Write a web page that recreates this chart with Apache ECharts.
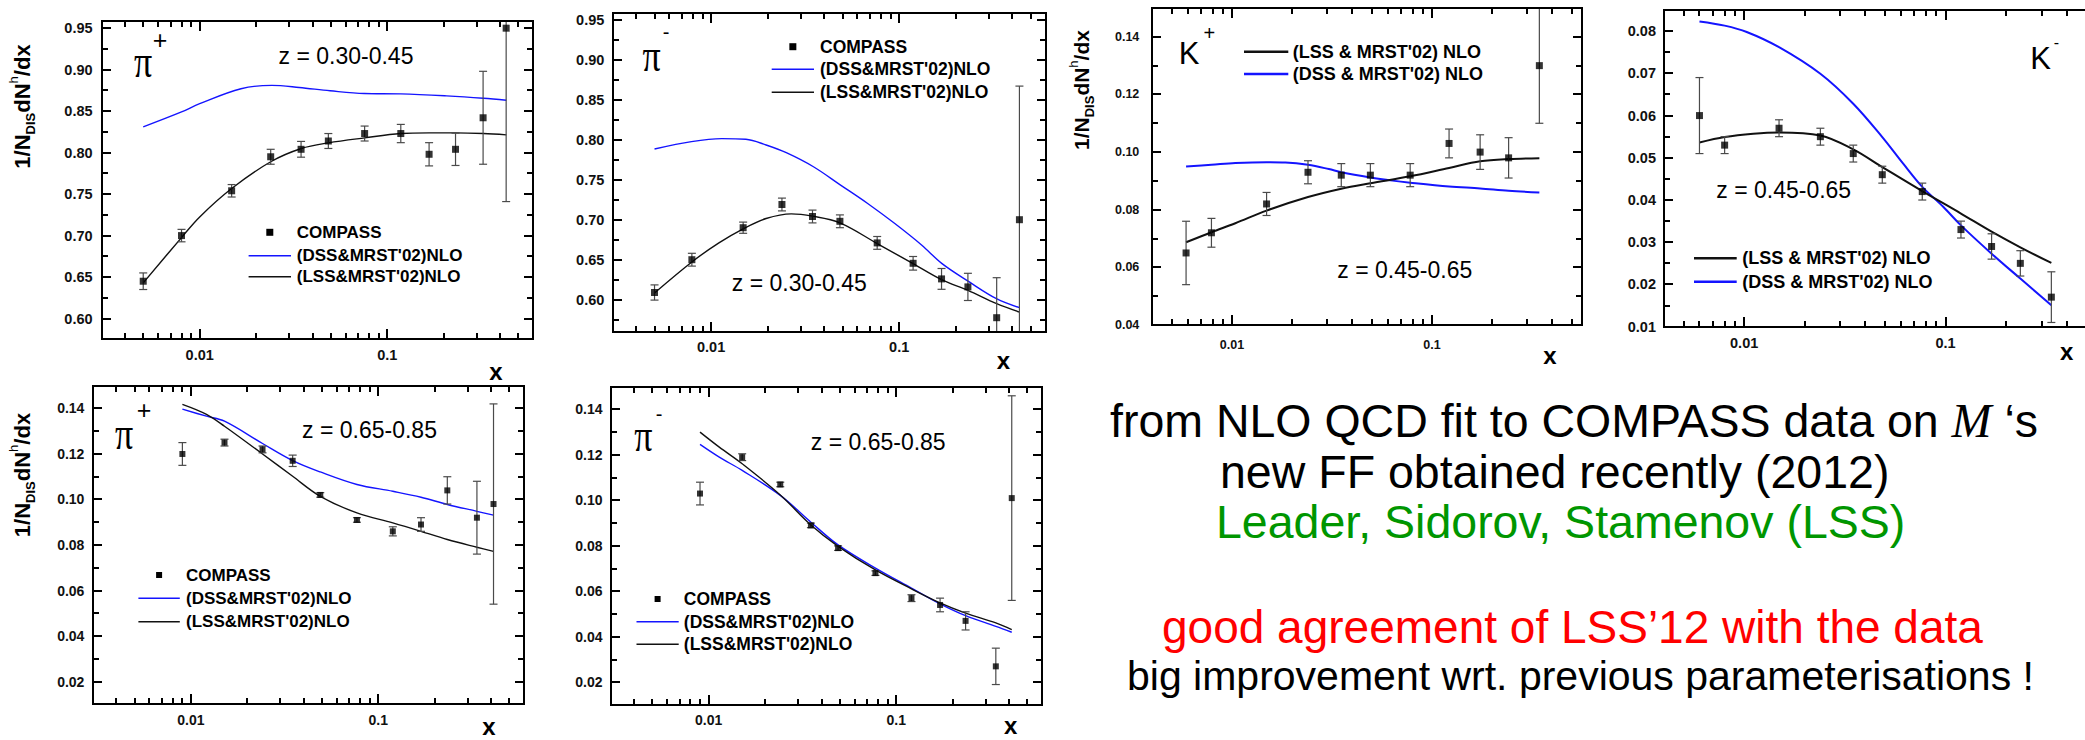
<!DOCTYPE html>
<html>
<head>
<meta charset="utf-8">
<title>COMPASS hadron multiplicities vs NLO QCD fits</title>
<script src="https://cdn.jsdelivr.net/npm/echarts@6.0.0/dist/echarts.min.js"></script>
<style>
html, body { margin: 0; padding: 0; background: #fff; }
#chart { width: 2085px; height: 740px; }
</style>
</head>
<body>
<div id="chart"></div>
<script>
// ---------- pi+ , z = 0.30-0.45 ----------
const piPlusMidX   = [0.005, 0.008, 0.0148, 0.0239, 0.0347, 0.0485, 0.0757, 0.118, 0.167, 0.231, 0.324, 0.43];
const piPlusMidY   = [0.645, 0.700, 0.754, 0.795, 0.804, 0.814, 0.823, 0.823, 0.798, 0.804, 0.842, 0.950];
const piPlusMidErr = [0.010, 0.0075, 0.0075, 0.009, 0.0095, 0.009, 0.009, 0.011, 0.014, 0.0195, 0.056, 0.209];
const piPlusMidDssX = [0.005, 0.008, 0.01, 0.0166, 0.0242, 0.0339, 0.0495, 0.0754, 0.118, 0.207, 0.325, 0.431];
const piPlusMidDssY = [0.831, 0.849, 0.859, 0.877, 0.881, 0.8785, 0.8745, 0.8712, 0.8708, 0.8684, 0.8656, 0.8632];
const piPlusMidLssX = [0.005, 0.008, 0.01, 0.0148, 0.0239, 0.0348, 0.0485, 0.0757, 0.118, 0.167, 0.231, 0.325, 0.431];
const piPlusMidLssY = [0.643, 0.6976, 0.7225, 0.7567, 0.789, 0.805, 0.8118, 0.8178, 0.823, 0.8238, 0.8238, 0.823, 0.8214];

// ---------- pi- , z = 0.30-0.45 ----------
const piMinusMidX   = [0.005, 0.0079, 0.0148, 0.0238, 0.0346, 0.0484, 0.0764, 0.1186, 0.168, 0.232, 0.330, 0.436];
const piMinusMidY   = [0.609, 0.650, 0.690, 0.719, 0.704, 0.698, 0.671, 0.6455, 0.626, 0.616, 0.5775, 0.700];
const piMinusMidErr = [0.0095, 0.008, 0.007, 0.008, 0.008, 0.008, 0.008, 0.0085, 0.013, 0.017, 0.05, 0.167];
const piMinusMidDssX = [0.005, 0.00786, 0.0114, 0.0153, 0.0196, 0.0251, 0.035, 0.0488, 0.068, 0.0948, 0.132, 0.169, 0.236, 0.329, 0.436];
const piMinusMidDssY = [0.7884, 0.7976, 0.8013, 0.8005, 0.7934, 0.7838, 0.7662, 0.7433, 0.7203, 0.6952, 0.6681, 0.6451, 0.6222, 0.6013, 0.590];
const piMinusMidLssX = [0.005, 0.0079, 0.011, 0.0148, 0.0196, 0.0267, 0.0346, 0.0484, 0.0764, 0.1186, 0.168, 0.232, 0.330, 0.436];
const piMinusMidLssY = [0.6084, 0.6472, 0.671, 0.6886, 0.7015, 0.7073, 0.7044, 0.696, 0.6702, 0.6451, 0.6251, 0.6117, 0.595, 0.5845];

// ---------- K+ , z = 0.45-0.65 ----------
const kPlusX   = [0.0059, 0.0079, 0.0149, 0.024, 0.0352, 0.0492, 0.0778, 0.1217, 0.174, 0.2415, 0.344];
const kPlusY   = [0.065, 0.072, 0.082, 0.093, 0.092, 0.092, 0.092, 0.103, 0.100, 0.098, 0.130];
const kPlusErr = [0.011, 0.005, 0.004, 0.004, 0.004, 0.004, 0.004, 0.005, 0.006, 0.007, 0.020];
const kPlusLssX = [0.0059, 0.0079, 0.0104, 0.0149, 0.024, 0.0352, 0.0492, 0.0778, 0.1217, 0.174, 0.2415, 0.344];
const kPlusLssY = [0.0687, 0.0722, 0.0753, 0.0797, 0.0844, 0.0873, 0.0892, 0.0916, 0.0945, 0.0968, 0.0976, 0.0979];
const kPlusDssX = [0.0059, 0.0079, 0.0104, 0.0149, 0.0185, 0.024, 0.0305, 0.0352, 0.0492, 0.0635, 0.0778, 0.1217, 0.174, 0.2415, 0.344];
const kPlusDssY = [0.0950, 0.0956, 0.0962, 0.0965, 0.0964, 0.0956, 0.0941, 0.0930, 0.0912, 0.0901, 0.0894, 0.0881, 0.0874, 0.0866, 0.0860];

// ---------- K- , z = 0.45-0.65 ----------
const kMinusX   = [0.006, 0.008, 0.0149, 0.0239, 0.0348, 0.0485, 0.0766, 0.1192, 0.1692, 0.235, 0.335];
const kMinusY   = [0.060, 0.053, 0.057, 0.055, 0.051, 0.046, 0.042, 0.033, 0.029, 0.025, 0.017];
const kMinusErr = [0.009, 0.002, 0.002, 0.002, 0.002, 0.002, 0.002, 0.002, 0.003, 0.003, 0.006];
const kMinusLssX = [0.006, 0.008, 0.0111, 0.0149, 0.0239, 0.0348, 0.0485, 0.0766, 0.1192, 0.1692, 0.235, 0.335];
const kMinusLssY = [0.0536, 0.0549, 0.0557, 0.0560, 0.0553, 0.0520, 0.0478, 0.0421, 0.0368, 0.0325, 0.0288, 0.0251];
const kMinusDssX = [0.006, 0.008, 0.0103, 0.0149, 0.0239, 0.0348, 0.0485, 0.0616, 0.0766, 0.0973, 0.1192, 0.1692, 0.235, 0.335];
const kMinusDssY = [0.0823, 0.0813, 0.0798, 0.0762, 0.0699, 0.0628, 0.0549, 0.0486, 0.0431, 0.0384, 0.034, 0.0273, 0.0214, 0.0151];

// ---------- pi+ , z = 0.65-0.85 ----------
const piPlusHighX   = [0.009, 0.0151, 0.0241, 0.0349, 0.049, 0.0769, 0.1195, 0.169, 0.2335, 0.336, 0.412];
const piPlusHighY   = [0.120, 0.125, 0.122, 0.117, 0.102, 0.091, 0.086, 0.089, 0.104, 0.092, 0.098];
const piPlusHighErr = [0.005, 0.0015, 0.0015, 0.0025, 0.001, 0.001, 0.002, 0.003, 0.006, 0.016, 0.044];
const piPlusHighCurveX = [0.009, 0.0121, 0.0151, 0.0241, 0.0349, 0.049, 0.0769, 0.1195, 0.169, 0.2335, 0.336, 0.412];
const piPlusHighDssY = [0.1397, 0.1366, 0.1344, 0.1246, 0.1171, 0.1121, 0.1066, 0.1036, 0.101, 0.0978, 0.0948, 0.0931];
const piPlusHighLssY = [0.1418, 0.1374, 0.1322, 0.120, 0.1102, 0.1014, 0.0941, 0.0897, 0.086, 0.0824, 0.079, 0.0772];

// ---------- pi- , z = 0.65-0.85 ----------
const piMinusHighX   = [0.009, 0.0151, 0.0241, 0.0351, 0.049, 0.0775, 0.1206, 0.1713, 0.2343, 0.3396, 0.4129];
const piMinusHighY   = [0.103, 0.119, 0.107, 0.089, 0.079, 0.068, 0.057, 0.054, 0.047, 0.027, 0.101];
const piMinusHighErr = [0.005, 0.0015, 0.001, 0.001, 0.001, 0.001, 0.0015, 0.003, 0.004, 0.008, 0.045];
const piMinusHighCurveX = [0.009, 0.0114, 0.0151, 0.0241, 0.0351, 0.049, 0.0775, 0.1206, 0.1713, 0.2343, 0.3396, 0.4129];
const piMinusHighDssY = [0.1246, 0.119, 0.1132, 0.1022, 0.0904, 0.0804, 0.0702, 0.0614, 0.0545, 0.0493, 0.0446, 0.042];
const piMinusHighLssY = [0.130, 0.1234, 0.1161, 0.1024, 0.0892, 0.0798, 0.0694, 0.0611, 0.0549, 0.0504, 0.0461, 0.0432];

// ---------- axis ranges ----------
const piXRange = [0.003, 0.6];
const kaonXRange = [0.004, 0.56];
const piPlusMidYRange = [0.575, 0.959];
const piMinusMidYRange = [0.56, 0.958];
const kPlusYRange = [0.04, 0.15];
const kMinusYRange = [0.01, 0.085];
const piHighYRange = [0.01, 0.15];

// ---------- styling ----------
const SANS = "'Liberation Sans', Arial, Helvetica, sans-serif";
const SERIF = "'Liberation Serif', 'Times New Roman', serif";
const BLUE = '#1414ff';
const INK = '#111111';
const FRAME = '#000000';
const ERRCOL = '#4a4a4a';

const panels = [
  { box: [101.6, 20.7, 431.7, 318.6], xRange: piXRange, yRange: piPlusMidYRange, yMajor: 0.05, yMinor: 0.025,
    labelSize: 14.5, xMargin: 8.5, yMargin: 9, lw: 1.4, sym: 7,
    pts: [piPlusMidX, piPlusMidY, piPlusMidErr],
    dss: [piPlusMidDssX, piPlusMidDssY], lss: [piPlusMidLssX, piPlusMidLssY] },
  { box: [612.8, 13.3, 432.7, 318.4], xRange: piXRange, yRange: piMinusMidYRange, yMajor: 0.05, yMinor: 0.025,
    labelSize: 14.5, xMargin: 8, yMargin: 8.5, lw: 1.4, sym: 7,
    pts: [piMinusMidX, piMinusMidY, piMinusMidErr],
    dss: [piMinusMidDssX, piMinusMidDssY], lss: [piMinusMidLssX, piMinusMidLssY] },
  { box: [1152.3, 8, 429.4, 317], xRange: kaonXRange, yRange: kPlusYRange, yMajor: 0.02, yMinor: 0.01,
    labelSize: 12.5, xMargin: 13.5, yMargin: 13, lw: 2, sym: 7,
    pts: [kPlusX, kPlusY, kPlusErr],
    dss: [kPlusDssX, kPlusDssY], lss: [kPlusLssX, kPlusLssY] },
  { box: [1664, 10, 432.3, 316.7], xRange: kaonXRange, yRange: kMinusYRange, yMajor: 0.01, yMinor: 0.005,
    labelSize: 14.5, xMargin: 9, yMargin: 8, lw: 2, sym: 7,
    pts: [kMinusX, kMinusY, kMinusErr],
    dss: [kMinusDssX, kMinusDssY], lss: [kMinusLssX, kMinusLssY] },
  { box: [93, 385.7, 431.1, 318.6], xRange: piXRange, yRange: piHighYRange, yMajor: 0.02, yMinor: 0.01,
    labelSize: 14, xMargin: 8.5, yMargin: 8.6, lw: 1.4, sym: 6,
    pts: [piPlusHighX, piPlusHighY, piPlusHighErr],
    dss: [piPlusHighCurveX, piPlusHighDssY], lss: [piPlusHighCurveX, piPlusHighLssY] },
  { box: [610.5, 386.7, 431.7, 318.3], xRange: piXRange, yRange: piHighYRange, yMajor: 0.02, yMinor: 0.01,
    labelSize: 14, xMargin: 8, yMargin: 8, lw: 1.4, sym: 6,
    pts: [piMinusHighX, piMinusHighY, piMinusHighErr],
    dss: [piMinusHighCurveX, piMinusHighDssY], lss: [piMinusHighCurveX, piMinusHighLssY] }
];

const zip = (xs, ys) => xs.map((x, i) => [x, ys[i]]);
const isMultiple = (v, step) => Math.abs(v / step - Math.round(v / step)) < 1e-6;

// frame tick positions: 1..9 x decade on the log axis, minor steps on the value axis
function xTickValues(range) {
  const out = [];
  for (let e = -4; e <= 1; e++) {
    for (let m = 1; m <= 9; m++) {
      const v = m * Math.pow(10, e);
      if (v > range[0] * 1.001 && v < range[1] * 0.999) out.push([v, m === 1]);
    }
  }
  return out;
}
function yTickValues(range, minor, major) {
  const out = [];
  const k0 = Math.ceil(range[0] / minor - 1e-6), k1 = Math.floor(range[1] / minor + 1e-6);
  for (let k = k0; k <= k1; k++) {
    const v = k * minor;
    if (v <= range[0] + 1e-9 || v >= range[1] - 1e-9) continue;
    out.push([v, isMultiple(v, major)]);
  }
  return out;
}

const grid = [], xAxis = [], yAxis = [], series = [];

panels.forEach((p, i) => {
  const [x0, x1] = p.xRange, [y0, y1] = p.yRange;
  grid.push({
    left: p.box[0], top: p.box[1], width: p.box[2], height: p.box[3],
    show: false, containLabel: false, outerBoundsMode: 'none'
  });
  xAxis.push({
    gridIndex: i, type: 'log', logBase: 10, min: x0, max: x1,
    axisLine: { show: false }, axisTick: { show: false }, splitLine: { show: false }, minorTick: { show: false },
    axisLabel: {
      interval: 0, margin: p.xMargin, fontSize: p.labelSize, fontWeight: 'bold', fontFamily: SANS, color: INK,
      formatter: v => {
        const l = Math.log10(v);
        return Math.abs(l - Math.round(l)) < 1e-6 ? String(Number(Math.pow(10, Math.round(l)).toPrecision(1))) : '';
      }
    }
  });
  yAxis.push({
    gridIndex: i, type: 'value', min: y0, max: y1, interval: 0.005,
    axisLine: { show: false }, axisTick: { show: false }, splitLine: { show: false },
    axisLabel: {
      interval: 0, margin: p.yMargin, fontSize: p.labelSize, fontWeight: 'bold', fontFamily: SANS, color: INK,
      formatter: v => isMultiple(v, p.yMajor) ? v.toFixed(2) : ''
    }
  });

  // theory curves
  series.push({
    type: 'line', name: 'DSS', xAxisIndex: i, yAxisIndex: i, data: zip(p.dss[0], p.dss[1]),
    smooth: 0.35, symbol: 'none', silent: true, z: 3,
    lineStyle: { color: BLUE, width: p.lw }
  });
  series.push({
    type: 'line', name: 'LSS', xAxisIndex: i, yAxisIndex: i, data: zip(p.lss[0], p.lss[1]),
    smooth: 0.35, symbol: 'none', silent: true, z: 3,
    lineStyle: { color: INK, width: p.lw }
  });

  // COMPASS error bars, clipped to the frame
  series.push({
    type: 'custom', xAxisIndex: i, yAxisIndex: i, silent: true, z: 4,
    data: p.pts[0].map((x, k) => [x, p.pts[1][k], p.pts[2][k]]),
    renderItem: (params, api) => {
      const x = api.value(0), y = api.value(1), e = api.value(2);
      const lo = Math.max(y - e, y0), hi = Math.min(y + e, y1);
      const a = api.coord([x, lo]), b = api.coord([x, hi]);
      const st = () => ({ stroke: ERRCOL, lineWidth: 1.2 });
      const kids = [{ type: 'line', shape: { x1: a[0], y1: a[1], x2: b[0], y2: b[1] }, style: st() }];
      if (y - e > y0) kids.push({ type: 'line', shape: { x1: a[0] - 4, y1: a[1], x2: a[0] + 4, y2: a[1] }, style: st() });
      if (y + e < y1) kids.push({ type: 'line', shape: { x1: b[0] - 4, y1: b[1], x2: b[0] + 4, y2: b[1] }, style: st() });
      return { type: 'group', children: kids };
    }
  });

  // COMPASS points
  series.push({
    type: 'scatter', name: 'COMPASS', xAxisIndex: i, yAxisIndex: i, data: zip(p.pts[0], p.pts[1]),
    symbol: 'rect', symbolSize: p.sym, silent: true, z: 5,
    itemStyle: { color: '#000' }
  });
});

// ---------- annotations ----------
function txt(x, y, text, font, extra) {
  return { type: 'text', x, y, silent: true, z: 10,
    style: Object.assign({ text, font, fill: '#000', align: 'center', verticalAlign: 'middle' }, extra || {}) };
}
// pi glyph, stretched vertically about its own centre
function piGlyph(x, y) {
  return { type: 'text', x, y, scaleY: 1.3, silent: true, z: 10,
    style: { text: 'π', font: `36px ${SERIF}`, fill: '#000', align: 'center', verticalAlign: 'middle' } };
}

function legendBlock(L) {
  const els = [];
  L.rows.forEach(r => {
    if (r.kind === 'square') {
      els.push({ type: 'rect', silent: true, z: 10,
        shape: { x: (L.x0 + L.x1) / 2 - L.sq / 2, y: r.y - L.sq / 2, width: L.sq, height: L.sq },
        style: { fill: '#000' } });
    } else {
      els.push({ type: 'line', silent: true, z: 10,
        shape: { x1: L.x0, y1: r.y, x2: L.x1, y2: r.y },
        style: { stroke: r.color, lineWidth: L.lw } });
    }
    els.push(txt(L.tx, r.y, r.text, L.font, { align: 'left' }));
  });
  return els;
}

function yTitle(x, y, size) {
  const sub = Math.round(size * 0.6);
  return { type: 'text', x, y, rotation: Math.PI / 2, silent: true, z: 10,
    style: {
      text: '{a|1/N}{s|DIS}{a|dN}{p|h}{a|/dx}',
      fill: '#000', align: 'center', verticalAlign: 'middle',
      rich: {
        a: { fontSize: size, fontWeight: 'bold', fontFamily: SANS, lineHeight: size + 8 },
        s: { fontSize: sub, fontWeight: 'bold', fontFamily: SANS, lineHeight: sub, verticalAlign: 'bottom' },
        p: { fontSize: sub, fontWeight: 'normal', fontFamily: SANS, lineHeight: sub, verticalAlign: 'top' }
      }
    } };
}

const boldLeg = s => `bold ${s}px ${SANS}`;
const piLegendRows = (ya, yb, yc) => [
  { kind: 'square', y: ya, text: 'COMPASS' },
  { kind: 'line', color: BLUE, y: yb, text: "(DSS&MRST'02)NLO" },
  { kind: 'line', color: INK, y: yc, text: "(LSS&MRST'02)NLO" }
];

const annotations = [].concat(
  legendBlock({ x0: 248.6, x1: 291, tx: 296.8, sq: 7, lw: 1.6, font: boldLeg(17), rows: piLegendRows(232.3, 255.7, 276.7) }),
  legendBlock({ x0: 771.7, x1: 814, tx: 820, sq: 7, lw: 1.6, font: boldLeg(17.5), rows: piLegendRows(46.7, 69.3, 92.3) }),
  legendBlock({ x0: 1244, x1: 1288.3, tx: 1292.7, sq: 7, lw: 2.5, font: boldLeg(18), rows: [
    { kind: 'line', color: INK, y: 51.7, text: "(LSS & MRST'02) NLO" },
    { kind: 'line', color: BLUE, y: 74, text: "(DSS & MRST'02) NLO" }] }),
  legendBlock({ x0: 1694, x1: 1736.7, tx: 1742.3, sq: 7, lw: 2.5, font: boldLeg(18), rows: [
    { kind: 'line', color: INK, y: 258.3, text: "(LSS & MRST'02) NLO" },
    { kind: 'line', color: BLUE, y: 281.7, text: "(DSS & MRST'02) NLO" }] }),
  legendBlock({ x0: 138.4, x1: 179.8, tx: 186, sq: 6, lw: 1.6, font: boldLeg(17), rows: piLegendRows(575, 598.3, 621.7) }),
  legendBlock({ x0: 636.5, x1: 678.7, tx: 683.8, sq: 6, lw: 1.6, font: boldLeg(17.5), rows: piLegendRows(599, 621.7, 644.3) }),
  [
    // z ranges
    txt(346, 56, 'z = 0.30-0.45', `23px ${SANS}`),
    txt(799.3, 283, 'z = 0.30-0.45', `23px ${SANS}`),
    txt(1404.8, 270, 'z = 0.45-0.65', `23px ${SANS}`),
    txt(1783.7, 190, 'z = 0.45-0.65', `23px ${SANS}`),
    txt(369.5, 430, 'z = 0.65-0.85', `23px ${SANS}`),
    txt(878.2, 441.7, 'z = 0.65-0.85', `23px ${SANS}`),
    // hadron labels
    piGlyph(143, 61.3),
    txt(160, 40, '+', `25px ${SANS}`),
    piGlyph(651.7, 55),
    txt(666, 31.7, '-', `20px ${SANS}`),
    txt(1189, 53, 'K', `31px ${SANS}`),
    txt(1209.3, 33.3, '+', `20px ${SANS}`),
    txt(2040.5, 58, 'K', `31px ${SANS}`),
    txt(2056.5, 42.5, '-', `16px ${SANS}`),
    piGlyph(124, 433),
    txt(144, 410, '+', `25px ${SANS}`),
    piGlyph(643.3, 435.8),
    txt(659.1, 414, '-', `20px ${SANS}`),
    // axis titles
    yTitle(22.4, 106.5, 22),
    yTitle(1081, 90, 21),
    yTitle(22.4, 475, 22),
    txt(495.9, 371.7, 'x', `bold 24px ${SANS}`),
    txt(1003.3, 360, 'x', `bold 24px ${SANS}`),
    txt(1550, 355, 'x', `bold 24px ${SANS}`),
    txt(2066.7, 351.7, 'x', `bold 24px ${SANS}`),
    txt(489, 726, 'x', `bold 24px ${SANS}`),
    txt(1010.7, 725, 'x', `bold 24px ${SANS}`),
    // commentary
    { type: 'text', x: 1110, y: 420.6, silent: true, z: 10,
      style: { text: '{n|from NLO QCD fit to COMPASS data on }{m|M}{n| ‘s}', fill: '#000', align: 'left', verticalAlign: 'middle',
        rich: { n: { fontSize: 46.5, fontFamily: SANS }, m: { fontSize: 48, fontFamily: SERIF, fontStyle: 'italic' } } } },
    txt(1220, 472, 'new FF obtained recently (2012)', `46.5px ${SANS}`, { align: 'left' }),
    txt(1216, 522, 'Leader, Sidorov, Stamenov (LSS)', `46.5px ${SANS}`, { align: 'left', fill: '#009600' }),
    txt(1162, 626.6, 'good agreement of LSS’12 with the data', `46px ${SANS}`, { align: 'left', fill: '#ff0000' }),
    txt(1127, 676.4, 'big improvement wrt. previous parameterisations !', `41px ${SANS}`, { align: 'left' })
  ]
);

const chart = echarts.init(document.getElementById('chart'), null, { renderer: 'svg' });
chart.setOption({
  animation: false,
  backgroundColor: '#fff',
  textStyle: { fontFamily: SANS },
  grid, xAxis, yAxis, series
});

// frames with inward ticks on all four sides, placed through each grid's own axis scales
// and snapped to whole pixels so the 2px strokes stay crisp
const frameEls = [];
panels.forEach((p, i) => {
  const [x0, x1] = p.xRange, [y0, y1] = p.yRange;
  const px = (x, y) => chart.convertToPixel({ gridIndex: i }, [x, y]);
  const lt = px(x0, y1), rb = px(x1, y0);
  const L = Math.round(lt[0]), T = Math.round(lt[1]), R = Math.round(rb[0]), B = Math.round(rb[1]);
  const line = (xa, ya, xb, yb) => ({ type: 'line', silent: true, z: 8,
    shape: { x1: xa, y1: ya, x2: xb, y2: yb }, style: { stroke: FRAME, lineWidth: 2 } });
  frameEls.push({ type: 'rect', silent: true, z: 8,
    shape: { x: L, y: T, width: R - L, height: B - T }, style: { fill: 'none', stroke: FRAME, lineWidth: 2 } });
  xTickValues(p.xRange).forEach(([v, major]) => {
    const X = Math.round(px(v, y0)[0]), len = major ? 10 : 6;
    frameEls.push(line(X, B, X, B - len), line(X, T, X, T + len));
  });
  yTickValues(p.yRange, p.yMinor, p.yMajor).forEach(([v, major]) => {
    const Y = Math.round(px(x0, v)[1]), len = major ? 9 : 6;
    frameEls.push(line(L, Y, L + len, Y), line(R, Y, R - len, Y));
  });
});

chart.setOption({ graphic: { elements: frameEls.concat(annotations) } });
</script>
</body>
</html>
